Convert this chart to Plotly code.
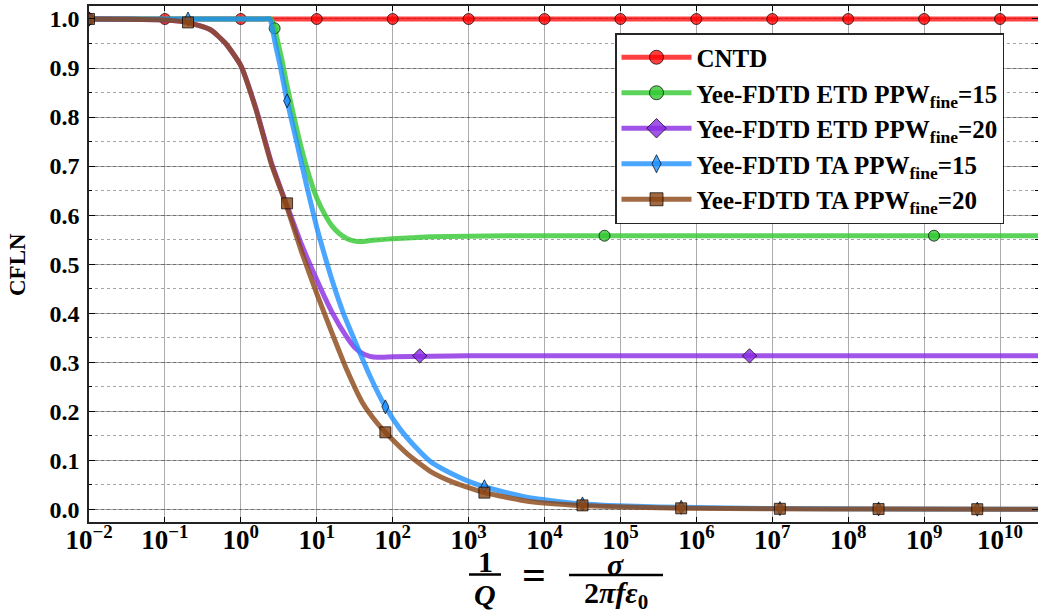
import plotly.graph_objects as go

# ---------------- data (x given as powers of ten) ----------------
cntd_exp = [-2, -1, 0, 1, 2, 3, 4, 5, 6, 7, 8, 9, 10, 10.5]
cntd_y = [1.0, 1.0, 1.0, 1.0, 1.0, 1.0, 1.0, 1.0, 1.0, 1.0, 1.0, 1.0, 1.0, 1.0]
cntd_mk_exp = [-2, -1, 0, 1, 2, 3, 4, 5, 6, 7, 8, 9, 10]
cntd_mk_y = [1.0] * 13

etd15_exp = [-2, -1, 0, 0.3, 0.40, 0.445, 0.5, 0.55, 0.6, 0.7, 0.8, 0.9, 1.0, 1.1, 1.2, 1.3,
             1.4, 1.5, 1.6, 1.7, 1.85, 2.0, 2.25, 2.5, 3.0, 3.5, 4.0, 10.5]
etd15_y = [1.0, 1.0, 1.0, 1.0, 1.0, 0.981, 0.945, 0.91, 0.87, 0.80, 0.735, 0.68, 0.635, 0.603,
           0.578, 0.562, 0.552, 0.547, 0.546, 0.548, 0.550, 0.552, 0.554, 0.556, 0.557, 0.558,
           0.558, 0.558]
etd15_mk_exp = [0.445, 4.79, 9.13]
etd15_mk_y = [0.981, 0.558, 0.558]

etd20_exp = [-2, -1.5, -1, -0.7, -0.4, -0.2, 0, 0.2, 0.4, 0.6, 0.8, 1.0, 1.2, 1.4, 1.5, 1.6,
             1.7, 1.8, 2.0, 2.5, 3.0, 10.5]
etd20_y = [1.0, 0.9995, 0.998, 0.993, 0.978, 0.95, 0.905, 0.817, 0.708, 0.623, 0.54, 0.468,
           0.402, 0.35, 0.33, 0.318, 0.312, 0.310, 0.311, 0.312, 0.313, 0.313]
etd20_mk_exp = [-2, 2.356, 6.70]
etd20_mk_y = [1.0, 0.313, 0.313]

ta15_exp = [-2, -1, 0, 0.3, 0.38, 0.45, 0.52, 0.609, 0.74, 0.87, 1.0, 1.1, 1.2, 1.35, 1.53,
            1.7, 1.904, 2.1, 2.3, 2.5, 2.76, 3.0, 3.208, 3.5, 3.87, 4.5, 5.2, 5.8, 7.0, 8.5,
            10.5]
ta15_y = [1.0, 1.0, 1.0, 1.0, 1.0, 0.952, 0.903, 0.833, 0.746, 0.658, 0.575, 0.52, 0.468, 0.40,
          0.333, 0.272, 0.209, 0.163, 0.127, 0.097, 0.074, 0.057, 0.046, 0.034, 0.022, 0.011,
          0.006, 0.004, 0.0015, 0.0006, 0.0002]
ta15_mk_exp = [-2, -0.696, 0.609, 1.904, 3.208, 4.50, 5.80, 7.10, 8.40, 9.70]
ta15_mk_y = [1.0, 1.0, 0.833, 0.209, 0.046, 0.011, 0.004, 0.0015, 0.0008, 0.0003]

ta20_exp = [-2, -1.5, -1, -0.7, -0.4, -0.2, 0, 0.2, 0.4, 0.6, 0.8, 1.0, 1.2, 1.4, 1.6, 1.8,
            1.904, 2.2, 2.5, 2.8, 3.208, 3.8, 4.5, 5.2, 5.8, 7.0, 8.5, 10.5]
ta20_y = [1.0, 0.9995, 0.998, 0.993, 0.978, 0.95, 0.905, 0.815, 0.705, 0.62, 0.525, 0.44, 0.36,
          0.283, 0.218, 0.175, 0.157, 0.112, 0.077, 0.055, 0.034, 0.016, 0.0075, 0.004, 0.0022,
          0.001, 0.0004, 0.0001]
ta20_mk_exp = [-2, -0.696, 0.609, 1.904, 3.208, 4.50, 5.80, 7.10, 8.40, 9.70]
ta20_mk_y = [1.0, 0.993, 0.624, 0.157, 0.034, 0.008, 0.002, 0.001, 0.0005, 0.0002]

names = ["CNTD",
         "Yee-FDTD ETD PPW<sub>fine</sub>=15",
         "Yee-FDTD ETD PPW<sub>fine</sub>=20",
         "Yee-FDTD TA PPW<sub>fine</sub>=15",
         "Yee-FDTD TA PPW<sub>fine</sub>=20"]

x_tick_exp = [-2, -1, 0, 1, 2, 3, 4, 5, 6, 7, 8, 9, 10]
x_tick_text = ["10<sup>\u22122</sup>", "10<sup>\u22121</sup>", "10<sup>0</sup>", "10<sup>1</sup>",
               "10<sup>2</sup>", "10<sup>3</sup>", "10<sup>4</sup>", "10<sup>5</sup>",
               "10<sup>6</sup>", "10<sup>7</sup>", "10<sup>8</sup>", "10<sup>9</sup>",
               "10<sup>10</sup>"]
y_tick_vals = [0.0, 0.1, 0.2, 0.3, 0.4, 0.5, 0.6, 0.7, 0.8, 0.9, 1.0]
y_tick_text = ["0.0", "0.1", "0.2", "0.3", "0.4", "0.5", "0.6", "0.7", "0.8", "0.9", "1.0"]

# ---------------- styles ----------------
FONT = "Liberation Serif"
line_colors = ["rgba(255,0,0,0.75)", "rgba(50,200,50,0.8)", "rgba(138,43,226,0.8)",
               "rgba(30,144,255,0.8)", "rgba(139,69,19,0.8)"]
symbols = ["circle", "circle", "diamond", "diamond-tall", "square"]
mk_sizes = [11, 11, 11, 10, 11]
leg_sizes = [14, 14, 15, 13, 13]
EDGE = dict(color="rgba(0,0,0,0.7)", width=1)

series = [
    (cntd_exp, cntd_y, cntd_mk_exp, cntd_mk_y),
    (etd15_exp, etd15_y, etd15_mk_exp, etd15_mk_y),
    (etd20_exp, etd20_y, etd20_mk_exp, etd20_mk_y),
    (ta15_exp, ta15_y, ta15_mk_exp, ta15_mk_y),
    (ta20_exp, ta20_y, ta20_mk_exp, ta20_mk_y),
]

fig = go.Figure()
for i, (xe, yv, mxe, myv) in enumerate(series):
    fig.add_trace(go.Scatter(
        x=[10 ** e for e in xe], y=yv, mode="lines",
        line=dict(color=line_colors[i], width=5, shape="spline", smoothing=0.5),
        showlegend=False, hoverinfo="skip"))
    fig.add_trace(go.Scatter(
        x=[10 ** e for e in mxe], y=myv, mode="markers",
        marker=dict(symbol=symbols[i], size=mk_sizes[i], color=line_colors[i], line=EDGE),
        showlegend=False, hoverinfo="skip"))

for i in range(5):
    fig.add_trace(go.Scatter(
        x=[None], y=[None], mode="lines+markers", name=names[i], legendgroup=f"g{i}",
        line=dict(color=line_colors[i], width=5),
        marker=dict(symbol=symbols[i], size=leg_sizes[i], color=line_colors[i], line=EDGE)))

L, R, T, B = 89, 0, 6, 92
W, H = 1038, 614
pw, ph = W - L - R, H - T - B


def px(xp):
    return (xp - L) / pw


def py(yp):
    return (H - B - yp) / ph


tickfont_x = dict(family=FONT, size=27, color="black", weight="bold")
tickfont_y = dict(family=FONT, size=24, color="black", weight="bold")
GRID = "rgba(0,0,0,0.33)"

fig.update_layout(
    width=W, height=H,
    margin=dict(l=L, r=R, t=T, b=B, autoexpand=False),
    paper_bgcolor="white", plot_bgcolor="white",
    xaxis=dict(
        type="log", range=[-2, 10.5],
        tickvals=[10 ** e for e in x_tick_exp], ticktext=x_tick_text,
        ticks="inside", ticklen=5, tickwidth=1, tickcolor="black",
        showline=True, linecolor="#222", linewidth=1.5, mirror="ticks",
        showgrid=True, gridcolor=GRID, gridwidth=1,
        tickfont=tickfont_x, zeroline=False, ticklabelstandoff=-7,
    ),
    yaxis=dict(
        range=[-0.0259, 1.0265],
        tickvals=y_tick_vals, ticktext=y_tick_text,
        ticks="inside", ticklen=6, tickwidth=1, tickcolor="black",
        showline=True, linecolor="#222", linewidth=1.5, mirror="ticks",
        showgrid=True, gridcolor=GRID, gridwidth=1, zeroline=False,
        tickfont=tickfont_y, ticklabelstandoff=3,
        minor=dict(dtick=0.05, tick0=0, ticks="inside", ticklen=3, tickcolor="black",
                   showgrid=True, gridcolor="rgba(0,0,0,0.35)", griddash="dot", gridwidth=1),
    ),
    legend=dict(
        x=px(615), y=py(33), xanchor="left", yanchor="top",
        bgcolor="white", bordercolor="rgba(0,0,0,0.85)", borderwidth=1.5,
        font=dict(family=FONT, size=25, color="black", weight="bold"),
        traceorder="grouped", tracegroupgap=0, itemwidth=70,
    ),
    showlegend=True,
)

# y-axis title
fig.add_annotation(text="CFLN", x=px(17), y=py(265), xref="paper", yref="paper",
                   textangle=-90, showarrow=False, xanchor="center", yanchor="middle",
                   font=dict(family=FONT, size=23, color="black", weight="bold"))

# x-axis label: 1/Q = sigma / (2 pi f eps0), built from text pieces and fraction bars
MF = dict(family=FONT, size=30, color="black", weight="bold")
MF_EQ = dict(family=FONT, size=42, color="black", weight="bold")
pieces = [
    ("1", 485, 561, MF),
    ("<i>Q</i>", 485, 594, MF),
    ("=", 534, 575, MF_EQ),
    ("<i>σ</i>", 615, 564, MF),
    ("2<i>πfε</i><sub>0</sub>", 616, 595, MF),
]
for txt, xp, yp, f in pieces:
    fig.add_annotation(text=txt, x=px(xp), y=py(yp), xref="paper", yref="paper",
                       showarrow=False, xanchor="center", yanchor="middle", font=f)
for x0, x1, yb in [(469, 501, 574.5), (569, 663, 575)]:
    fig.add_shape(type="line", xref="paper", yref="paper", x0=px(x0), x1=px(x1),
                  y0=py(yb), y1=py(yb), line=dict(color="black", width=2.5))

fig.write_html("out.html", post_script="document.body.style.margin='0px';",
               config={"displayModeBar": False})
